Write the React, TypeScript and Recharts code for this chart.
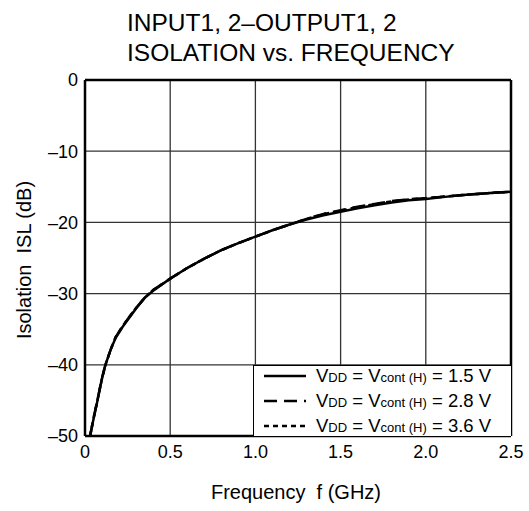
import React from "react";
import {
  LineChart,
  Line,
  XAxis,
  YAxis,
  CartesianGrid,
  ReferenceLine,
  Legend,
} from "recharts";

const FONT = "'Liberation Sans', Arial, Helvetica, sans-serif";

// frequency in GHz
const freq = [
  0.03, 0.05, 0.07, 0.1, 0.12, 0.15, 0.18, 0.22, 0.25, 0.3, 0.35, 0.4, 0.5,
  0.6, 0.7, 0.8, 0.9, 1.0, 1.1, 1.2, 1.3, 1.4, 1.5, 1.6, 1.7, 1.8, 1.9, 2.0,
  2.1, 2.2, 2.3, 2.4, 2.5,
];

// isolation in dB, one list per supply voltage
const isl15 = [
  -50, -47.6, -45.4, -41.9, -40.0, -37.9, -36.2, -34.7, -33.7, -32.1, -30.6,
  -29.6, -27.9, -26.4, -25.1, -23.9, -22.9, -22.0, -21.1, -20.3, -19.6, -19.0,
  -18.5, -18.0, -17.6, -17.2, -16.9, -16.7, -16.45, -16.2, -16.0, -15.85, -15.7,
];
const isl28 = [
  -50, -47.5, -45.3, -41.8, -40.0, -37.9, -36.1, -34.6, -33.6, -32.0, -30.6,
  -29.5, -27.9, -26.4, -25.1, -23.9, -22.9, -22.0, -21.1, -20.3, -19.5, -18.8,
  -18.3, -17.8, -17.4, -17.0, -16.75, -16.6, -16.4, -16.2, -16.0, -15.85, -15.7,
];
const isl36 = [
  -50, -47.5, -45.3, -41.9, -40.0, -37.9, -36.1, -34.6, -33.6, -32.0, -30.6,
  -29.5, -27.9, -26.4, -25.1, -23.9, -22.9, -22.0, -21.1, -20.3, -19.5, -18.85,
  -18.35, -17.85, -17.45, -17.05, -16.8, -16.6, -16.4, -16.2, -16.0, -15.85,
  -15.7,
];

const xTicks = [0, 0.5, 1.0, 1.5, 2.0, 2.5];
const yTicks = [-50, -40, -30, -20, -10, 0];

const seriesVolts: Record<string, string> = {
  v15: "1.5",
  v28: "2.8",
  v36: "3.6",
};
const seriesDash: Record<string, string | undefined> = {
  v15: undefined,
  v28: "13 7",
  v36: "5 4",
};

const data = freq.map((f, i) => ({
  f,
  v15: isl15[i],
  v28: isl28[i],
  v36: isl36[i],
}));

const fmtX = (v: number) => (v === 0 ? "0" : v.toFixed(1));
const fmtY = (v: number) => (v < 0 ? "\u2013" + Math.abs(v) : String(v));

function LegendBox(props: any) {
  const payload = props.payload || [];
  return (
    <div
      style={{
        width: 258,
        height: 71,
        boxSizing: "border-box",
        borderTop: "1.5px solid #000",
        borderLeft: "1.5px solid #000",
        background: "#fff",
        fontFamily: FONT,
        fontSize: 18.5,
        color: "#000",
      }}
    >
      <div style={{ marginTop: -3 }}>
        {payload.map((p: any) => (
          <div
            key={p.dataKey}
            style={{ display: "flex", alignItems: "center", height: 25 }}
          >
            <svg width={42} height={6} style={{ marginLeft: 10, marginRight: 10 }}>
              <line
                x1={0}
                y1={3}
                x2={42}
                y2={3}
                stroke="#000"
                strokeWidth={2.5}
                strokeDasharray={seriesDash[p.dataKey]}
              />
            </svg>
            <span style={{ whiteSpace: "nowrap" }}>
              V<span style={{ fontSize: 13 }}>DD</span> = V
              <span style={{ fontSize: 13 }}>cont (H)</span> ={" "}
              {seriesVolts[p.dataKey]} V
            </span>
          </div>
        ))}
      </div>
    </div>
  );
}

export default function App() {
  const tick = { fill: "#000", fontSize: 18, fontFamily: FONT };
  return (
    <div
      style={{
        position: "absolute",
        left: 0,
        top: 0,
        width: 529,
        height: 511,
        background: "#fff",
        fontFamily: FONT,
        color: "#000",
      }}
    >
      <div
        style={{
          position: "absolute",
          left: 127,
          top: 8,
          fontSize: 24.5,
          lineHeight: "30px",
          whiteSpace: "nowrap",
        }}
      >
        <div>INPUT1, 2–OUTPUT1, 2</div>
        <div>ISOLATION vs. FREQUENCY</div>
      </div>
      <LineChart
        width={529}
        height={511}
        data={data}
        margin={{ top: 80, right: 18, bottom: 45, left: 0 }}
      >
        <CartesianGrid stroke="#333" strokeWidth={1.3} />
        <XAxis
          type="number"
          dataKey="f"
          domain={[0, 2.5]}
          ticks={xTicks}
          tickFormatter={fmtX}
          tick={tick}
          tickLine={false}
          tickSize={0}
          tickMargin={9}
          height={30}
          axisLine={{ stroke: "#000", strokeWidth: 2.5 }}
          allowDataOverflow
        />
        <YAxis
          type="number"
          domain={[-50, 0]}
          ticks={yTicks}
          tickFormatter={fmtY}
          tick={tick}
          tickLine={false}
          tickSize={0}
          tickMargin={7}
          width={85}
          axisLine={{ stroke: "#000", strokeWidth: 2.5 }}
          allowDataOverflow
        />
        <ReferenceLine y={0} stroke="#000" strokeWidth={2.5} />
        <ReferenceLine x={2.5} stroke="#000" strokeWidth={2.5} />
        <Line
          dataKey="v15"
          stroke="#000"
          strokeWidth={2.5}
          dot={false}
          isAnimationActive={false}
        />
        <Line
          dataKey="v28"
          stroke="#000"
          strokeWidth={2.5}
          strokeDasharray={seriesDash.v28}
          dot={false}
          isAnimationActive={false}
        />
        <Line
          dataKey="v36"
          stroke="#000"
          strokeWidth={2.5}
          strokeDasharray={seriesDash.v36}
          dot={false}
          isAnimationActive={false}
        />
        <Legend
          layout="vertical"
          align="center"
          verticalAlign="middle"
          content={<LegendBox />}
          wrapperStyle={{ left: 253, top: 365, width: 258, height: 71 }}
        />
      </LineChart>
      <div
        style={{
          position: "absolute",
          left: 24,
          top: 260,
          fontSize: 20,
          lineHeight: "20px",
          whiteSpace: "pre",
          transform: "translate(-50%, -50%) rotate(-90deg)",
        }}
      >
        {"Isolation  ISL (dB)"}
      </div>
      <div
        style={{
          position: "absolute",
          left: 296,
          top: 482,
          fontSize: 20,
          lineHeight: "20px",
          whiteSpace: "pre",
          transform: "translateX(-50%)",
        }}
      >
        {"Frequency  f (GHz)"}
      </div>
    </div>
  );
}
